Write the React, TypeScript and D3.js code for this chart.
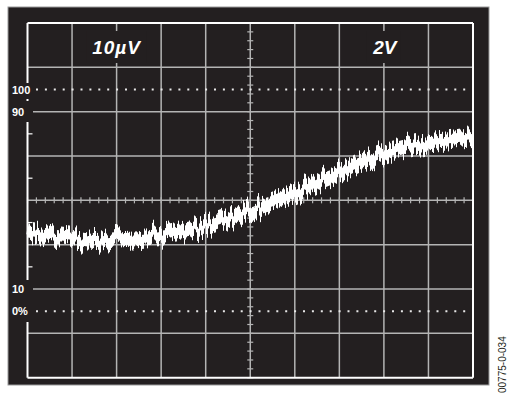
import React from "react";
import * as d3 from "d3";

// Trace centre line, in screen divisions (x: 0..10, y: -4..4 from centre)
const traceX = [0, 0.5, 1, 1.5, 2, 2.5, 3, 3.5, 4, 4.5, 5, 5.5, 6, 6.5, 7, 7.5, 8, 8.5, 9, 9.5, 10];
const traceY = [-0.72, -0.8, -0.87, -0.94, -0.87, -0.83, -0.78, -0.69, -0.58, -0.42, -0.22, -0.06, 0.16, 0.41, 0.62, 0.86, 1.07, 1.22, 1.31, 1.36, 1.43];

const levelLabels = ["100", "90", "10", "0%"];
const levelValues = [2.5, 2.0, -2.0, -2.5];
const channelLabels = ["10µV", "2V"];
const channelPos = [2, 8];
const figureId = "00775-0-034";

const W = 529;
const H = 394;
const X0 = 27.5, X1 = 473, Y0 = 23, Y1 = 377.7;

export default function App() {
  const x = d3.scaleLinear().domain([0, 10]).range([X0, X1]);
  const y = d3.scaleLinear().domain([-4, 4]).range([Y1, Y0]);
  const bg = "#231f20";
  const grid = "#b4b4b4";

  const pts = traceX.map((v, i) => [x(v), y(traceY[i])] as [number, number]);
  const line = d3.line().curve(d3.curveMonotoneX)(pts) || "";

  const vGrid = d3.range(1, 10);
  const hGrid = d3.range(-3, 4);
  const minorX = d3.range(0, 50.01, 1).map((i) => i / 5);
  const minorY = d3.range(0, 40.01, 1).map((i) => i / 5 - 4);
  const leftTicks = [1.5, 0.5, -0.5, -1.5];
  const dotStart = 35;

  return (
    <svg width={W} height={H} style={{ position: "absolute", left: 0, top: 0, background: "#fff" }}
      fontFamily="'Liberation Sans', Arial, sans-serif">
      <defs>
        <filter id="noise" filterUnits="userSpaceOnUse" x="0" y="0" width={W} height={H}>
          <feTurbulence type="fractalNoise" baseFrequency="0.55 0.002" numOctaves={1} seed={7} result="n" />
          <feColorMatrix in="n" type="matrix" result="m"
            values="0 0 0 0 0.5  0 1 0 0 0  0 0 0 0 0.5  0 0 0 0 1" />
          <feDisplacementMap in="SourceGraphic" in2="m" scale={30} xChannelSelector="R" yChannelSelector="G" />
        </filter>
      </defs>
      <rect x={8} y={7} width={481} height={378} fill={bg} stroke="#9a9a9a" strokeWidth={1} />

      {/* grid */}
      {vGrid.map((k) => (
        <line key={"v" + k} x1={x(k)} x2={x(k)} y1={Y0} y2={Y1} stroke={grid} strokeWidth={1.5} />
      ))}
      {hGrid.map((k) => {
        const special = Math.abs(k) === 2;
        return (
          <line key={"h" + k} x1={special ? 33 : X0} x2={X1} y1={y(k)} y2={y(k)} stroke={grid} strokeWidth={1.5} />
        );
      })}

      {/* center axis minor ticks */}
      {minorX.map((v, i) => (
        <line key={"mx" + i} x1={x(v)} x2={x(v)} y1={y(0) - 3} y2={y(0) + 3} stroke={grid} strokeWidth={1.2} />
      ))}
      {minorY.map((v, i) => (
        <line key={"my" + i} x1={x(5) - 3} x2={x(5) + 3} y1={y(v)} y2={y(v)} stroke={grid} strokeWidth={1.2} />
      ))}

      {/* dotted 0% / 100% lines */}
      {[2.5, -2.5].map((v) => (
        <line key={"d" + v} x1={dotStart} x2={X1} y1={y(v)} y2={y(v)} stroke="#e8e8e8" strokeWidth={2}
          strokeDasharray="2 6.9" strokeDashoffset={-1} />
      ))}

      {/* border */}
      <line x1={X0} x2={X1} y1={Y0} y2={Y0} stroke="#fff" strokeWidth={2} />
      <line x1={X0} x2={X1} y1={Y1} y2={Y1} stroke="#fff" strokeWidth={2} />
      <line x1={X1} x2={X1} y1={Y0} y2={Y1} stroke="#fff" strokeWidth={2} />
      <line x1={X0} x2={X0} y1={Y0} y2={83} stroke="#fff" strokeWidth={2} />
      <line x1={X0} x2={X0} y1={122} y2={280} stroke="#fff" strokeWidth={2} />
      <line x1={X0} x2={X0} y1={322} y2={Y1} stroke="#fff" strokeWidth={2} />
      <rect x={X0 - 1} y={99} width={2} height={2} fill="#fff" />
      {leftTicks.map((v) => (
        <line key={"lt" + v} x1={X0} x2={X0 + 5} y1={y(v)} y2={y(v)} stroke="#fff" strokeWidth={1.2} />
      ))}

      {/* level labels */}
      {levelLabels.map((t, i) => (
        <text key={t} x={12} y={y(levelValues[i]) + 4} fill="#fff" fontSize={11} fontWeight="bold">{t}</text>
      ))}

      {/* channel labels */}
      {channelLabels.map((t, i) => (
        <g key={t}>
          <rect x={x(channelPos[i]) - (i === 0 ? 30 : 17)} y={31} width={i === 0 ? 60 : 34} height={32} fill={bg} />
          <text x={x(channelPos[i]) + (i === 0 ? 0 : 1)} y={54} fill="#fff" fontSize={19} fontWeight="bold"
            fontStyle="italic" textAnchor="middle" letterSpacing={i === 0 ? 1 : 0}>{t}</text>
        </g>
      ))}

      {/* trace */}
      <path d={line} fill="none" stroke="#fff" strokeWidth={14} filter="url(#noise)" />

      <text transform="translate(506,393) rotate(-90)" fontSize={10} fill="#231f20">{figureId}</text>
    </svg>
  );
}
